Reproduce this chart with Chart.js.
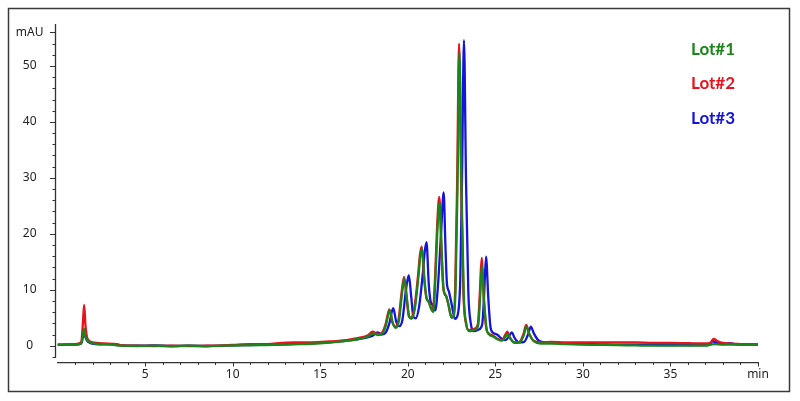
<!DOCTYPE html>
<html>
<head>
<meta charset="utf-8">
<script src="https://cdn.jsdelivr.net/npm/chart.js@4.4.1/dist/chart.umd.min.js"></script>
<style>
html,body{margin:0;padding:0;background:#fff;}
#wrap{position:relative;width:800px;height:401px;}
</style>
</head>
<body>
<div id="wrap"><canvas id="c"></canvas></div>
<script>
// ---- Data (retention time in min, absorbance in mAU) ----
const lot1Time = [0,1.0,1.35,1.45,1.52,1.6,1.75,2.2,3.0,3.6,4.5,5.5,6.5,7.5,8.5,9.5,10.5,11.5,12.5,13.5,14.5,15.5,16.5,17.2,17.7,18.05,18.3,18.55,18.75,18.97,19.15,19.32,19.5,19.68,19.81,19.95,20.08,20.2,20.4,20.6,20.72,20.82,20.95,21.08,21.2,21.35,21.45,21.58,21.7,21.82,21.95,22.05,22.2,22.35,22.5,22.62,22.73,22.84,22.95,23.07,23.2,23.35,23.5,23.8,24.02,24.13,24.24,24.36,24.5,24.65,24.9,25.15,25.4,25.58,25.7,25.85,26.1,26.4,26.62,26.78,26.95,27.2,27.6,28.2,29,30,31,32,33,34,35,36,37,37.5,38,39,40];
const lot1Abs  = [0.2,0.2,0.4,1.8,3.0,1.6,0.8,0.35,0.25,0.0,-0.05,0.0,-0.1,0.0,-0.1,0.0,0.05,0.1,0.15,0.25,0.35,0.55,0.85,1.2,1.6,2.2,1.9,2.2,3.6,6.3,4.0,3.2,4.5,9.5,12.0,8.5,5.2,4.8,6.5,12.0,16.0,17.3,12.0,8.4,7.8,6.5,6.0,12.0,21.0,25.6,16.0,10.0,8.8,7.0,5.0,5.2,10.0,28.0,52.5,28.0,9.0,3.8,2.6,2.8,3.6,8.5,14.3,8.0,3.0,2.0,1.6,1.1,0.9,1.6,2.0,1.3,0.5,0.6,1.8,3.4,2.0,0.8,0.4,0.4,0.3,0.2,0.15,0.1,0.05,0.0,0.0,0.0,0.0,0.3,0.2,0.2,0.2];

const lot2Time = [0,1.0,1.35,1.45,1.52,1.6,1.72,2.0,2.6,3.4,3.7,4.5,5.5,6.5,7.5,8.5,9.5,10.3,11,12,12.8,13.5,14.5,15.5,16.5,17.2,17.7,18.0,18.3,18.55,18.73,18.95,19.12,19.3,19.48,19.66,19.79,19.93,20.06,20.18,20.38,20.58,20.7,20.8,20.93,21.06,21.18,21.33,21.43,21.56,21.68,21.8,21.93,22.03,22.18,22.33,22.48,22.6,22.71,22.82,22.93,23.05,23.18,23.33,23.48,23.78,24.0,24.11,24.22,24.34,24.48,24.63,24.88,25.13,25.38,25.56,25.68,25.83,26.08,26.38,26.6,26.76,26.93,27.18,27.6,28.2,29,30,31,32,33,34,35,36,37,37.3,37.47,37.7,38.0,38.5,39,40];
const lot2Abs  = [0.2,0.3,0.6,4.0,7.3,3.5,1.2,0.6,0.4,0.3,0.05,0.0,-0.05,0.0,-0.05,0.0,0.05,0.2,0.3,0.3,0.5,0.6,0.6,0.75,1.0,1.4,1.8,2.5,2.1,2.4,3.8,6.5,4.2,3.4,4.8,9.8,12.3,8.7,5.3,5.0,6.8,12.3,16.3,17.7,12.3,8.6,8.0,6.7,6.2,12.3,21.5,26.6,16.5,10.3,9.0,7.2,5.2,5.3,10.3,29.0,54.0,29.0,9.3,3.9,2.8,3.0,3.8,9.0,15.7,8.5,3.2,2.2,1.8,1.2,1.0,1.9,2.5,1.5,0.6,0.7,2.0,3.7,2.2,0.9,0.6,0.7,0.6,0.6,0.6,0.6,0.6,0.5,0.5,0.45,0.4,0.6,1.2,0.8,0.5,0.35,0.3,0.25];

const lot3Time = [0,1.0,1.35,1.45,1.52,1.6,1.75,2.2,3.0,3.6,4.5,5.5,6.5,7.5,8.5,9.5,10.5,11.5,12.5,13.5,14.5,15.5,16.5,17.2,17.7,18.0,18.28,18.5,18.75,18.95,19.17,19.35,19.52,19.7,19.9,20.06,20.2,20.32,20.45,20.65,20.85,20.97,21.07,21.2,21.3,21.42,21.57,21.72,21.9,22.05,22.15,22.24,22.34,22.5,22.7,22.85,23.0,23.1,23.21,23.33,23.46,23.6,23.78,24.05,24.25,24.36,24.47,24.6,24.73,24.88,25.1,25.35,25.6,25.8,25.94,26.1,26.35,26.65,26.87,27.03,27.2,27.45,27.8,28.4,29,30,31,32,33,34,35,36,37,37.25,37.42,37.65,38.0,38.35,38.7,39.3,40];
const lot3Abs  = [0.15,0.2,0.4,1.6,2.6,1.5,0.7,0.3,0.25,0.05,0.0,0.05,-0.05,0.0,-0.05,0.0,0.1,0.15,0.25,0.35,0.45,0.6,0.9,1.2,1.5,1.8,2.4,2.0,2.4,4.0,6.7,4.2,3.5,4.7,10.0,12.6,8.7,5.2,4.9,7.0,12.6,16.8,18.5,11.0,8.0,7.3,6.3,10.5,20.0,27.4,18.0,11.0,9.8,7.5,4.8,5.5,12.0,30.0,54.6,29.0,9.5,4.0,2.6,2.9,3.8,9.0,15.9,8.5,3.2,2.3,2.0,1.3,1.0,1.8,2.4,1.4,0.6,0.7,2.0,3.4,2.2,1.0,0.6,0.5,0.4,0.3,0.25,0.2,0.2,0.15,0.1,0.1,0.1,0.3,0.8,0.5,0.3,0.45,0.3,0.2,0.2];

const seriesNames = ['Lot#1','Lot#2','Lot#3'];
const seriesColors = ['#1a861a','#e8121c','#1414dc'];

const yTickValues = [-2,0,2,4,6,8,10,12,14,16,18,20,22,24,26,28,30,32,34,36,38,40,42,44,46,48,50,52,54,56];
const yLabelValues = [0,10,20,30,40,50];
const yUnitLabel = 'mAU';
const xTickValues = [1,2,3,4,5,6,7,8,9,10,11,12,13,14,15,16,17,18,19,20,21,22,23,24,25,26,27,28,29,30,31,32,33,34,35,36,37,38,39,40];
const xLabelValues = [5,10,15,20,25,30,35];
const xUnitLabel = 'min';

function pts(t, v){ return t.map((x,i)=>({x:x, y:v[i]})); }

const frameAndTicks = {
  id:'frameAndTicks',
  afterDraw(chart){
    const ctx = chart.ctx;
    ctx.save();
    // outer frame
    ctx.strokeStyle = '#3a3a3a';
    ctx.lineWidth = 1.5;
    ctx.strokeRect(8.5, 8.5, 781, 383);
    const xs = chart.scales.x, ys = chart.scales.y;
    const axX = 55.5;
    // y axis line (stops at the lowest tick)
    ctx.strokeStyle = '#333';
    ctx.lineWidth = 1.3;
    ctx.beginPath();
    ctx.moveTo(axX, chart.chartArea.top);
    ctx.lineTo(axX, Math.round(ys.getPixelForValue(yTickValues[0])) + 1);
    ctx.stroke();
    // tick marks
    ctx.lineWidth = 1;
    ctx.beginPath();
    ys.ticks.forEach(t=>{
      const py = Math.round(ys.getPixelForValue(t.value)) + 0.5;
      const major = (t.value % 10 === 0) || t.value === 56;
      const len = major ? 5.5 : 3;
      ctx.moveTo(axX - len, py);
      ctx.lineTo(axX, py);
    });
    xs.ticks.forEach(t=>{
      const px = Math.round(xs.getPixelForValue(t.value)) + 0.5;
      const major = t.value % 5 === 0;
      const len = major ? 4 : 2.5;
      ctx.moveTo(px, xs.top);
      ctx.lineTo(px, xs.top + len);
    });
    ctx.stroke();
    // legend text
    ctx.font = 'bold 17px Lato, "Open Sans", sans-serif';
    ctx.textAlign = 'left';
    ctx.textBaseline = 'alphabetic';
    const baselines = [55, 89, 124];
    seriesNames.forEach((n,i)=>{
      ctx.fillStyle = seriesColors[i];
      ctx.fillText(n, 691, baselines[i]);
    });
    ctx.restore();
  }
};

new Chart(document.getElementById('c'), {
  type:'line',
  data:{
    datasets:[
      {label:seriesNames[0], data:pts(lot1Time, lot1Abs), borderColor:seriesColors[0]},
      {label:seriesNames[1], data:pts(lot2Time, lot2Abs), borderColor:seriesColors[1]},
      {label:seriesNames[2], data:pts(lot3Time, lot3Abs), borderColor:seriesColors[2]}
    ].map(d=>Object.assign(d,{borderWidth:2.3, pointRadius:0, fill:false, cubicInterpolationMode:'monotone'}))
  },
  options:{
    responsive:true,
    maintainAspectRatio:false,
    animation:false,
    devicePixelRatio:1,
    layout:{padding:{top:24, right:42, bottom:0, left:0}},
    plugins:{legend:{display:false}, tooltip:{enabled:false}},
    scales:{
      x:{
        type:'linear', min:0, max:40,
        afterBuildTicks:(s)=>{ s.ticks = xTickValues.map(v=>({value:v})); },
        afterFit:(s)=>{ s.height = 38.5; },
        grid:{drawOnChartArea:false, drawTicks:false},
        border:{display:true, color:'#333', width:1.3},
        ticks:{
          autoSkip:false, maxRotation:0, padding:5, color:'#222',
          font:{family:'"Noto Sans", "DejaVu Sans", sans-serif', size:12},
          callback:(v)=> v===40 ? xUnitLabel : (xLabelValues.includes(v) ? String(v) : '')
        }
      },
      y:{
        type:'linear', min:-3, max:57.5,
        afterBuildTicks:(s)=>{ s.ticks = yTickValues.map(v=>({value:v})); },
        afterFit:(s)=>{ s.width = 57.5; },
        grid:{drawOnChartArea:false, drawTicks:false},
        border:{display:false},
        ticks:{
          autoSkip:false, padding:14, crossAlign:'center', color:'#222',
          font:{family:'"Noto Sans", "DejaVu Sans", sans-serif', size:12},
          callback:(v)=> v===56 ? yUnitLabel : (yLabelValues.includes(v) ? String(v) : '')
        }
      }
    }
  },
  plugins:[frameAndTicks]
});
</script>
</body>
</html>
